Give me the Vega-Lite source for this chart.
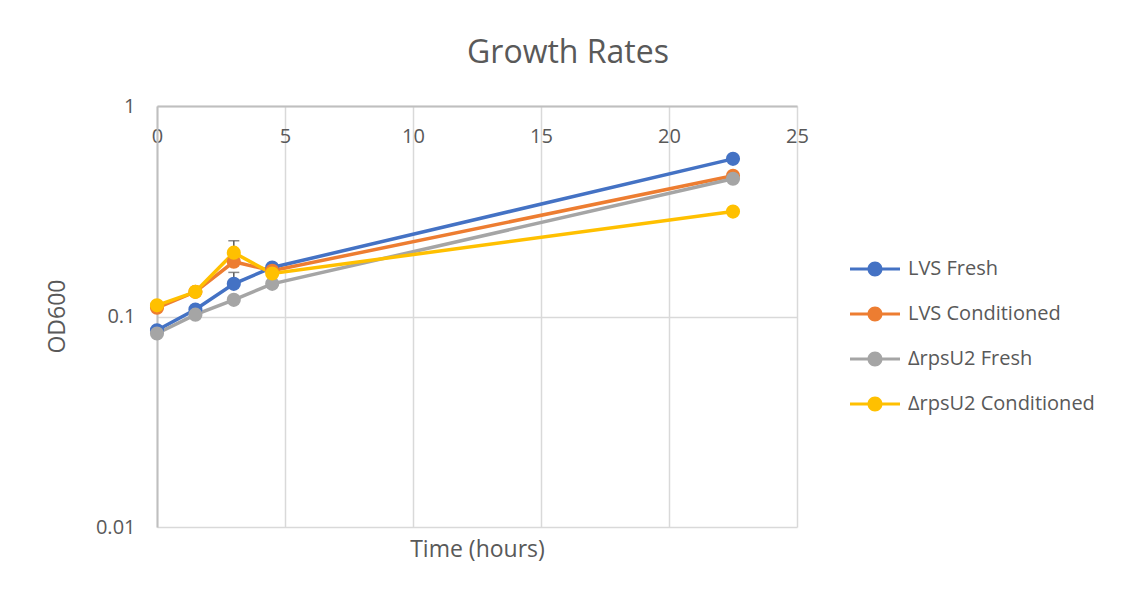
{
  "$schema": "https://vega.github.io/schema/vega-lite/v6.json",
  "width": 640,
  "height": 421,
  "autosize": "none",
  "padding": {"left": 157, "top": 106, "right": 325, "bottom": 69},
  "background": "white",
  "title": {
    "text": "Growth Rates",
    "fontSize": 32,
    "font": "Open Sans",
    "fontWeight": "normal",
    "color": "#595959",
    "anchor": "middle",
    "frame": "group",
    "dx": 91,
    "baseline": "middle",
    "offset": 11
  },
  "config": {
    "view": {"stroke": null},
    "axis": {
      "labelFont": "Open Sans",
      "titleFont": "Open Sans",
      "labelColor": "#595959",
      "titleColor": "#595959",
      "labelFontSize": 20,
      "titleFontSize": 23,
      "titleFontWeight": "normal",
      "gridColor": "#d9d9d9",
      "gridWidth": 1.5,
      "domainColor": "#bfbfbf",
      "domainWidth": 2,
      "ticks": false,
      "tickSize": 0
    }
  },
  "datasets": {
    "main": [
      {"Series": "LVS Fresh", "Time": 0, "OD": 0.086},
      {"Series": "LVS Fresh", "Time": 1.5, "OD": 0.108},
      {"Series": "LVS Fresh", "Time": 3, "OD": 0.143},
      {"Series": "LVS Fresh", "Time": 4.5, "OD": 0.171},
      {"Series": "LVS Fresh", "Time": 22.5, "OD": 0.561},
      {"Series": "LVS Conditioned", "Time": 0, "OD": 0.110},
      {"Series": "LVS Conditioned", "Time": 1.5, "OD": 0.131},
      {"Series": "LVS Conditioned", "Time": 3, "OD": 0.182},
      {"Series": "LVS Conditioned", "Time": 4.5, "OD": 0.165},
      {"Series": "LVS Conditioned", "Time": 22.5, "OD": 0.466},
      {"Series": "ΔrpsU2 Fresh", "Time": 0, "OD": 0.083},
      {"Series": "ΔrpsU2 Fresh", "Time": 1.5, "OD": 0.102},
      {"Series": "ΔrpsU2 Fresh", "Time": 3, "OD": 0.120},
      {"Series": "ΔrpsU2 Fresh", "Time": 4.5, "OD": 0.143},
      {"Series": "ΔrpsU2 Fresh", "Time": 22.5, "OD": 0.451},
      {"Series": "ΔrpsU2 Conditioned", "Time": 0, "OD": 0.113},
      {"Series": "ΔrpsU2 Conditioned", "Time": 1.5, "OD": 0.131},
      {"Series": "ΔrpsU2 Conditioned", "Time": 3, "OD": 0.201},
      {"Series": "ΔrpsU2 Conditioned", "Time": 4.5, "OD": 0.160},
      {"Series": "ΔrpsU2 Conditioned", "Time": 22.5, "OD": 0.315}
    ],
    "errors": [
      {"Series": "LVS Fresh", "Time": 3, "OD": 0.143, "hi": 0.162},
      {"Series": "ΔrpsU2 Conditioned", "Time": 3, "OD": 0.201, "hi": 0.229}
    ]
  },
  "layer": [
    {
      "data": {"name": "main"},
      "mark": {"type": "line", "strokeWidth": 3.5},
      "encoding": {
        "x": {
          "field": "Time", "type": "quantitative",
          "scale": {"domain": [0, 25], "nice": false},
          "axis": {
            "orient": "top", "values": [0, 5, 10, 15, 20, 25], "grid": true,
            "title": null, "labelBaseline": "middle", "labelPadding": -30,
            "labelFlush": false
          }
        },
        "y": {
          "field": "OD", "type": "quantitative",
          "scale": {"type": "log", "domain": [0.01, 1], "nice": false},
          "axis": {
            "values": [0.01, 0.1, 1], "format": "~g", "grid": true,
            "labelPadding": 22, "title": "OD600",
            "titleX": -100, "titleY": 210, "titleAngle": -90,
            "titleAlign": "center", "titleBaseline": "middle"
          }
        },
        "color": {
          "field": "Series", "type": "nominal",
          "scale": {
            "domain": ["LVS Fresh", "LVS Conditioned", "ΔrpsU2 Fresh", "ΔrpsU2 Conditioned"],
            "range": ["#4472C4", "#ED7D31", "#A5A5A5", "#FFC000"]
          },
          "legend": {
            "orient": "none", "legendX": 708, "legendY": 153, "title": null,
            "symbolType": "M-2.5,-0.16H2.5V0.16H-2.5Z M0.75,0A0.75,0.75,0,1,1,-0.75,0A0.75,0.75,0,1,1,0.75,0Z",
            "symbolSize": 400, "symbolStrokeWidth": 0,
            "labelFont": "Open Sans", "labelFontSize": 20, "labelColor": "#595959",
            "labelOffset": 23, "rowPadding": 25, "padding": 0, "labelLimit": 300,
            "encode": {"symbols": {"update": {"fill": {"scale": "color", "field": "value"}, "opacity": {"value": 1}, "strokeWidth": {"value": 0}}}}
          }
        }
      }
    },
    {
      "data": {"name": "errors"},
      "mark": {"type": "rule", "color": "#595959", "strokeWidth": 1.5},
      "encoding": {
        "x": {"field": "Time", "type": "quantitative", "axis": null},
        "y": {"field": "OD", "type": "quantitative", "axis": null},
        "y2": {"field": "hi"}
      }
    },
    {
      "data": {"name": "errors"},
      "mark": {"type": "tick", "orient": "horizontal", "color": "#595959", "size": 11, "thickness": 1.5},
      "encoding": {
        "x": {"field": "Time", "type": "quantitative", "axis": null},
        "y": {"field": "hi", "type": "quantitative", "axis": null}
      }
    },
    {
      "data": {"name": "main"},
      "mark": {"type": "point", "filled": true, "size": 200, "opacity": 1},
      "encoding": {
        "x": {
          "field": "Time", "type": "quantitative",
          "axis": {
            "orient": "bottom", "labels": false, "grid": false, "domain": false,
            "title": "Time (hours)", "titleY": 22, "titleBaseline": "middle"
          }
        },
        "y": {"field": "OD", "type": "quantitative", "axis": null},
        "color": {"field": "Series", "type": "nominal"}
      }
    }
  ],
  "resolve": {"axis": {"x": "independent", "y": "independent"}}
}
